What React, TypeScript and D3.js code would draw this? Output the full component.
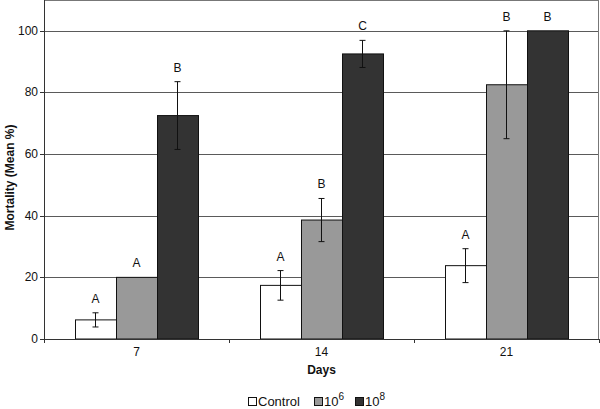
import React from "react";
import * as d3 from "d3";

const categories = ["7", "14", "21"];
const seriesNames = ["Control", "10^6", "10^8"];
const controlMeans = [6.2, 17.4, 23.8];
const controlErrors = [2.3, 4.8, 5.5];
const e6Means = [20, 38.6, 82.5];
const e6Errors = [0, 7, 17.5];
const e8Means = [72.5, 92.5, 100];
const e8Errors = [11, 4.4, 0];
const controlLetters = ["A", "A", "A"];
const e6Letters = ["A", "B", "B"];
const e8Letters = ["B", "C", "B"];
const yTicks = [0, 20, 40, 60, 80, 100];

const fills = ["#ffffff", "#999999", "#333333"];
const FONT = "'Liberation Sans', Arial, sans-serif";

export default function App() {
  const W = 600, H = 409;
  const left = 44, right = 599, top = 0, bottom = 339;
  const x = d3.scaleBand<string>().domain(categories).range([left, right]).padding(0);
  const groupW = 123;
  const xs = d3.scaleBand<string>().domain(seriesNames).range([0, groupW]).padding(0);
  const y = d3.scaleLinear().domain([0, 110]).range([bottom, top]);

  const series = [
    { name: seriesNames[0], means: controlMeans, errs: controlErrors, letters: controlLetters },
    { name: seriesNames[1], means: e6Means, errs: e6Errors, letters: e6Letters },
    { name: seriesNames[2], means: e8Means, errs: e8Errors, letters: e8Letters },
  ];

  const groupOffset = (x.bandwidth() - groupW) / 2;
  const boundaries = [left, ...categories.map((c) => (x(c) as number) + x.bandwidth())];

  return (
    <svg width={W} height={H} style={{ position: "absolute", left: 0, top: 0, background: "#fff" }} fontFamily={FONT}>
      <rect x={0} y={0} width={W} height={H} fill="#fff" />
      {/* plot frame & grid */}
      {yTicks.filter((t) => t > 0).map((t) => (
        <line key={t} x1={left} x2={right} y1={Math.round(y(t)) + 0.5} y2={Math.round(y(t)) + 0.5} stroke="#5a5a5a" strokeWidth={1} />
      ))}
      <line x1={left} x2={right} y1={0.5} y2={0.5} stroke="#777" />
      <line x1={right - 0.5} x2={right - 0.5} y1={0} y2={bottom} stroke="#777" />

      {/* bars */}
      {series.map((s, si) =>
        categories.map((c, ci) => {
          const bx = (x(c) as number) + groupOffset + (xs(s.name) as number);
          const bw = xs.bandwidth();
          const m = s.means[ci];
          const e = s.errs[ci];
          const cx = bx + bw / 2;
          const topV = m + e;
          return (
            <g key={s.name + c}>
              <rect x={bx + 0.5} y={y(m)} width={bw} height={bottom - y(m)} fill={fills[si]} stroke="#111" strokeWidth={1} />
              {e > 0 && (
                <g stroke="#111" strokeWidth={1}>
                  <line x1={cx} x2={cx} y1={y(m + e)} y2={y(m - e)} />
                  <line x1={cx - 3} x2={cx + 3} y1={y(m + e)} y2={y(m + e)} />
                  <line x1={cx - 3} x2={cx + 3} y1={y(m - e)} y2={y(m - e)} />
                </g>
              )}
              <text x={cx} y={y(topV) - 10} textAnchor="middle" fontSize={12} fill="#111">{s.letters[ci]}</text>
            </g>
          );
        })
      )}

      {/* y axis */}
      <line x1={left + 0.5} x2={left + 0.5} y1={0} y2={bottom} stroke="#333" />
      {yTicks.map((t) => (
        <g key={"yt" + t}>
          <line x1={left - 4} x2={left} y1={Math.round(y(t)) + 0.5} y2={Math.round(y(t)) + 0.5} stroke="#333" />
          <text x={left - 6} y={y(t) + 4} textAnchor="end" fontSize={12} fill="#111">{t}</text>
        </g>
      ))}
      <text transform={`translate(14,${(top + bottom) / 2 + 8}) rotate(-90)`} textAnchor="middle" fontSize={12} fontWeight="bold" fill="#111">Mortality (Mean %)</text>

      {/* x axis */}
      <line x1={left} x2={right} y1={bottom + 0.5} y2={bottom + 0.5} stroke="#333" />
      {boundaries.map((b, i) => (
        <line key={"xb" + i} x1={Math.round(b) + 0.5} x2={Math.round(b) + 0.5} y1={bottom} y2={bottom + 4} stroke="#333" />
      ))}
      {categories.map((c) => (
        <text key={"xl" + c} x={(x(c) as number) + x.bandwidth() / 2} y={356} textAnchor="middle" fontSize={12} fill="#111">{c}</text>
      ))}
      <text x={(left + right) / 2} y={374} textAnchor="middle" fontSize={12} fontWeight="bold" fill="#111">Days</text>

      {/* legend */}
      {[
        { x: 248, label: "Control", sup: null },
        { x: 314, label: "10", sup: "6" },
        { x: 355, label: "10", sup: "8" },
      ].map((l, i) => (
        <g key={"lg" + i}>
          <rect x={l.x + 0.5} y={397.5} width={8} height={8} fill={fills[i]} stroke="#111" />
          <text x={l.x + 10} y={406} fontSize={13} fill="#111">
            {l.label}
            {l.sup && <tspan dy={-6} fontSize={10}>{l.sup}</tspan>}
          </text>
        </g>
      ))}
    </svg>
  );
}
